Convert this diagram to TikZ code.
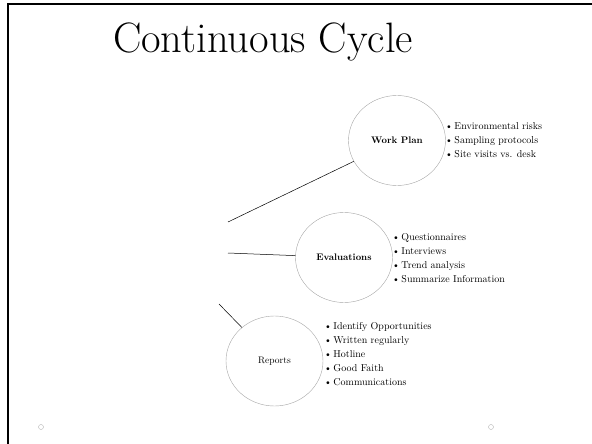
\documentclass[tikz,border=0pt]{standalone}
\usetikzlibrary{shapes.geometric,positioning}

\begin{document}
\begin{tikzpicture}[
  x=1pt, y=-1pt,
  bubble/.style={draw=gray!70, line width=0.4pt, ellipse, minimum width=97pt, minimum height=90pt, inner sep=0pt, font=\fontsize{9.5}{11}\selectfont},
  points/.style={anchor=north west, inner sep=0pt, align=left, font=\fontsize{10}{14}\selectfont},
  dot/.style={draw=gray!60, circle, minimum size=5pt, inner sep=0pt, line width=0.4pt},
  link/.style={line width=0.5pt}
]
\useasboundingbox (0,0) rectangle (592,444);

% slide frame
\draw[line width=2pt] (8,444) -- (8,4) -- (592,4);

\node[anchor=base, font=\fontsize{42.5}{50}\selectfont] (title) at (263,53) {Continuous Cycle};

% the three stages
\node[bubble, font=\fontsize{9.5}{11}\selectfont\bfseries] (plan) at (397,140.5) {Work Plan};
\node[bubble, font=\fontsize{9.5}{11}\selectfont\bfseries] (eval) at (344,257.5) {Evaluations};
\node[bubble] (rep) at (274.5,361) {Reports};

% free ends of the links
\coordinate (p0) at (228,222);
\coordinate (e0) at (228,253);
\coordinate (r0) at (219,304);
\draw[link] (p0) -- (plan);
\draw[link] (e0) -- (eval);
\draw[link] (r0) -- (rep);

% bullet lists
\node[points] (planlist) at (445,122) {\textbullet\kern1.5pt Environmental risks\\ \textbullet\kern1.5pt Sampling protocols\\ \textbullet\kern1.5pt Site visits vs. desk};
\node[points] (evallist) at (392,233) {\textbullet\kern1.5pt Questionnaires\\ \textbullet\kern1.5pt Interviews\\ \textbullet\kern1.5pt Trend analysis\\ \textbullet\kern1.5pt Summarize Information};
\node[points] (replist) at (324,322) {\textbullet\kern1.5pt Identify Opportunities\\ \textbullet\kern1.5pt Written regularly\\ \textbullet\kern1.5pt Hotline\\ \textbullet\kern1.5pt Good Faith\\ \textbullet\kern1.5pt Communications};

% footer markers
\node[dot] (fl) at (41,427) {};
\node[dot] (fr) at (491,427) {};

\end{tikzpicture}
\end{document}
